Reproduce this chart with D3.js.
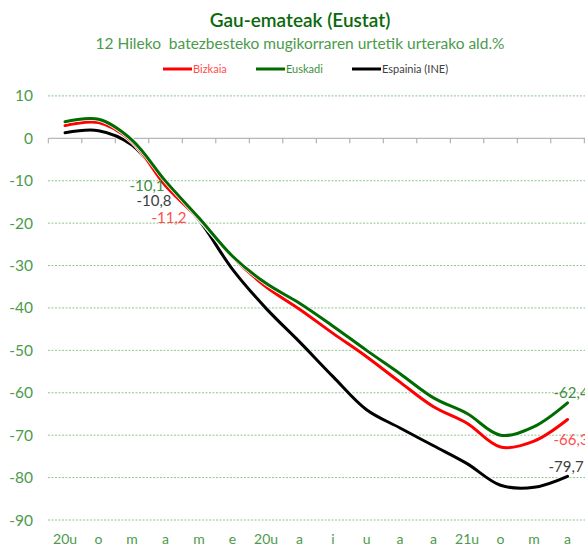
<!DOCTYPE html>
<html><head><meta charset="utf-8">
<script src="https://cdn.jsdelivr.net/npm/d3@7"></script>
<style>body{margin:0;background:#fff}svg{display:block;font-family:Lato,"Open Sans",sans-serif}</style>
</head><body><svg id="c" width="585" height="548"></svg>
<script>
const months = ["20u","o","m","a","m","e","20u","a","i","u","a","a","21u","o","m","a"];
const bizkaia = [3.0, 3.7, -0.8, -11.2, -19.0, -28.0, -35.0, -40.3, -46.0, -51.5, -57.5, -63.3, -67.2, -72.8, -71.4, -66.3];
const euskadi = [3.9, 4.5, -0.4, -10.1, -18.8, -27.8, -34.2, -38.9, -44.3, -50.0, -55.5, -61.2, -64.9, -70.0, -68.0, -62.4];
const espainia = [1.3, 1.8, -1.6, -10.8, -19.3, -30.9, -40.1, -48.0, -56.2, -64.0, -68.3, -72.5, -76.7, -81.8, -82.3, -79.7];
const yTicks = [10, 0, -10, -20, -30, -40, -50, -60, -70, -80, -90];
const seriesNames = ["Bizkaia", "Euskadi", "Espainia (INE)"];
const seriesColors = ["#ff0000", "#006b00", "#000000"];
const labelColors = ["#ff4d4d", "#3f8f3f", "#404040"];

const svg = d3.select("#c");
const x = d3.scaleBand().domain(d3.range(months.length)).range([48.3, 584.3]);
const y = d3.scaleLinear().domain([-90, 10]).range([520, 95.9]);
const cx = i => x(i) + x.bandwidth() / 2;

// title
svg.append("text").attr("x", 300).attr("y", 27).attr("text-anchor", "middle")
  .attr("font-size", 19).attr("font-weight", 600).attr("fill", "#0a6a0a").text("Gau-emateak (Eustat)");
svg.append("text").attr("x", 300).attr("y", 49).attr("text-anchor", "middle")
  .style("white-space", "pre")
  .attr("font-size", 15.5).attr("fill", "#4c9a4c").text("12 Hileko  batezbesteko mugikorraren urtetik urterako ald.%");

// legend
const legX = [163, 256, 352];
seriesNames.forEach((n, i) => {
  const g = svg.append("g");
  g.append("line").attr("x1", legX[i]).attr("x2", legX[i] + 29).attr("y1", 69).attr("y2", 69)
    .attr("stroke", seriesColors[i]).attr("stroke-width", 3);
  g.append("text").attr("x", legX[i] + 30).attr("y", 72.5).attr("font-size", 11)
    .attr("fill", labelColors[i]).text(n);
});

// grid
svg.append("g").selectAll("line").data(yTicks.filter(d => d !== 0)).join("line")
  .attr("x1", 48).attr("x2", 585).attr("y1", d => y(d)).attr("y2", d => y(d))
  .attr("stroke", "#8fc48f").attr("stroke-width", 1).attr("stroke-dasharray", "2,1.5");

// y labels
svg.append("g").selectAll("text").data(yTicks).join("text")
  .attr("x", 33).attr("y", d => y(d) + 5.5).attr("text-anchor", "end")
  .attr("font-size", 15.5).attr("fill", "#4c9a4c").text(d => d);

// zero axis with ticks
const ax = svg.append("g");
ax.append("line").attr("x1", 48.3).attr("x2", 585).attr("y1", y(0)).attr("y2", y(0))
  .attr("stroke", "#a6a6a6").attr("stroke-width", 1);
ax.selectAll("line.t").data(d3.range(months.length + 1)).join("line").attr("class", "t")
  .attr("x1", i => 48.3 + i * x.step()).attr("x2", i => 48.3 + i * x.step())
  .attr("y1", y(0)).attr("y2", y(0) + 5).attr("stroke", "#a6a6a6");

// x labels
svg.append("g").selectAll("text").data(months).join("text")
  .attr("x", (d, i) => cx(i)).attr("y", 544).attr("text-anchor", "middle")
  .attr("font-size", 14).attr("fill", "#4c9a4c").text(d => d);

// lines
const line = d3.line().x((d, i) => cx(i)).y(d => y(d)).curve(d3.curveCatmullRom.alpha(0.5));
const data = [espainia, bizkaia, euskadi];
const cols = ["#000000", "#ff0000", "#006b00"];
data.forEach((s, k) => {
  svg.append("path").attr("d", line(s)).attr("fill", "none")
    .attr("stroke", "#fff").attr("stroke-width", 4.5);
  svg.append("path").attr("d", line(s)).attr("fill", "none")
    .attr("stroke", cols[k]).attr("stroke-width", 3).attr("stroke-linecap", "round");
});

const fmt = v => String(v.toFixed(1)).replace(".", ",");
// data labels at April 2020 (index 3)
svg.append("text").attr("x", cx(3) - 1).attr("y", y(euskadi[3]) + 10).attr("text-anchor", "end")
  .attr("font-size", 15).attr("fill", "#3f8f3f").text(fmt(euskadi[3]));
svg.append("text").attr("x", cx(3) + 6).attr("y", y(espainia[3]) + 22).attr("text-anchor", "end")
  .attr("font-size", 15).attr("fill", "#404040").text(fmt(espainia[3]));
svg.append("text").attr("x", cx(3) + 21).attr("y", y(bizkaia[3]) + 37).attr("text-anchor", "end")
  .attr("font-size", 15).attr("fill", "#ff4d4d").text(fmt(bizkaia[3]));
// end labels
const last = months.length - 1;
svg.append("text").attr("x", cx(last) - 14).attr("y", y(euskadi[last]) - 5).attr("font-size", 15)
  .attr("fill", "#3f8f3f").text(fmt(euskadi[last]));
svg.append("text").attr("x", cx(last) - 14).attr("y", y(bizkaia[last]) + 26).attr("font-size", 15)
  .attr("fill", "#ff4d4d").text(fmt(bizkaia[last]));
svg.append("text").attr("x", cx(last) - 19).attr("y", y(espainia[last]) - 4).attr("font-size", 15)
  .attr("fill", "#404040").text(fmt(espainia[last]));
</script></body></html>
